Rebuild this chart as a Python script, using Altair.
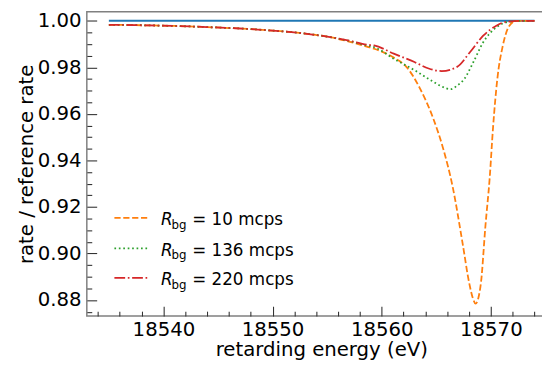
import altair as alt
import pandas as pd

# ---- data ----
blue_x = [18535, 18574]
blue_y = [1.0, 1.0]

common_x = [18535, 18538, 18541, 18544, 18547, 18550, 18553, 18555]
common_y = [0.9983, 0.9981, 0.9978, 0.9973, 0.9967, 0.9958, 0.9945, 0.9932]

orange_x = [18557, 18558.7, 18559.3, 18561.1, 18562.3, 18563.5, 18564.7, 18565.6, 18566.5,
            18567.4, 18568.0, 18568.35, 18568.6, 18568.85, 18569.1, 18569.5, 18569.9, 18570.2,
            18570.6, 18571.1, 18571.7, 18572.3, 18573, 18574]
orange_y = [0.9911, 0.9888, 0.9880, 0.9842, 0.9800, 0.9710, 0.9583, 0.9456, 0.9287,
            0.9047, 0.8877, 0.8808, 0.8785, 0.8808, 0.8877, 0.9117, 0.9329, 0.9541,
            0.9753, 0.9894, 0.9979, 0.9999, 1.0, 1.0]

green_x = [18557, 18558.7, 18559.3, 18561.1, 18563.0, 18564.7, 18565.5, 18566.3, 18567.0,
           18567.5, 18568.4, 18569.3, 18570.5, 18571.7, 18573, 18574]
green_y = [0.9914, 0.9893, 0.9887, 0.9837, 0.9788, 0.9739, 0.9718, 0.9706, 0.9725,
           0.9746, 0.9823, 0.9908, 0.9972, 0.9996, 1.0, 1.0]

red_x = [18557, 18558.7, 18559.3, 18561.1, 18563.0, 18564.3, 18565.5, 18566.9, 18568.1,
         18569.3, 18570.5, 18571.4, 18573, 18574]
red_y = [0.9915, 0.9897, 0.9894, 0.9859, 0.9823, 0.9795, 0.9784, 0.9802, 0.9866,
         0.9936, 0.9979, 0.9996, 1.0, 1.0]

bg_rates = [10, 136, 220]
series_colors = ["#ff7f0e", "#2ca02c", "#d62728"]
series_dashes = [[6.3, 2.7], [1.7, 2.8], [10.9, 2.7, 1.7, 2.7]]

x_ticks = [18534 + 2 * i for i in range(21)]
y_ticks = [round(0.875 + 0.005 * i, 3) for i in range(26)]

X_DOMAIN = [18532.98, 18575.95]
Y_DOMAIN = [0.8731, 1.00394]
W, H = 476, 309
FONT = "DejaVu Sans"

x_enc = alt.X(
    "x:Q",
    scale=alt.Scale(domain=X_DOMAIN, nice=False, zero=False),
    axis=alt.Axis(
        values=x_ticks,
        title="retarding energy (eV)",
        labelExpr="datum.value % 10 == 0 ? format(datum.value, 'd') : ''",
        tickSize={"condition": {"test": "datum.value % 10 == 0", "value": -10}, "value": -5},
        labelPadding=13.5,
        titleX=238, titleY=40.5, titleAlign="center", titleBaseline="alphabetic",
        titleAnchor="start",
    ),
)
y_enc = alt.Y(
    "y:Q",
    scale=alt.Scale(domain=Y_DOMAIN, nice=False, zero=False),
    axis=alt.Axis(
        values=y_ticks,
        title="rate / reference rate",
        labelExpr="round(datum.value * 1000) % 20 == 0 ? format(datum.value, '.2f') : ''",
        tickSize={"condition": {"test": "round(datum.value * 1000) % 20 == 0", "value": -10}, "value": -5},
        labelPadding=15.8,
        titleX=-55, titleY=154.5, titleAngle=270, titleAlign="center",
        titleBaseline="alphabetic", titleAnchor="start",
    ),
)


def line_layer(xs, ys, color, dash=None, width=1.8):
    df = pd.DataFrame({"x": xs, "y": ys})
    kw = dict(color=color, strokeWidth=width, clip=True, interpolate="monotone")
    if dash is not None:
        kw["strokeDash"] = dash
    return alt.Chart(df).mark_line(**kw).encode(x=x_enc, y=y_enc)


layers = [line_layer(blue_x, blue_y, "#1f77b4", None, 2.0)]
for xs, ys, c, d in [
    (common_x + orange_x, common_y + orange_y, series_colors[0], series_dashes[0]),
    (common_x + green_x, common_y + green_y, series_colors[1], series_dashes[1]),
    (common_x + red_x, common_y + red_y, series_colors[2], series_dashes[2]),
]:
    layers.append(line_layer(xs, ys, c, d))

# ---- legend (manual, to allow italic R with subscript) ----
row_line_y = [209.3, 240.3, 270.3]
for i, r in enumerate(bg_rates):
    df = pd.DataFrame({"label": [f"= {r} mcps"]})
    ly = row_line_y[i]
    base = ly + 7.4
    layers.append(
        alt.Chart(df).mark_rule(color=series_colors[i], strokeWidth=1.8,
                                strokeDash=series_dashes[i]).encode(
            x=alt.value(28), x2=alt.value(62), y=alt.value(ly))
    )
    layers.append(
        alt.Chart(df).mark_text(text="R", font=FONT, fontSize=17, fontStyle="italic",
                                align="left", baseline="alphabetic", color="#000").encode(
            x=alt.value(75.3), y=alt.value(base))
    )
    layers.append(
        alt.Chart(df).mark_text(text="bg", font=FONT, fontSize=12,
                                align="left", baseline="alphabetic", color="#000").encode(
            x=alt.value(86), y=alt.value(base + 3.5))
    )
    layers.append(
        alt.Chart(df).mark_text(font=FONT, fontSize=17, align="left",
                                baseline="alphabetic", color="#000").encode(
            x=alt.value(107), y=alt.value(base), text="label:N")
    )

chart = alt.layer(*layers).properties(
    width=W, height=H,
    autosize=alt.AutoSizeParams(type="none"),
    padding={"left": 80, "top": 1, "right": -14, "bottom": 52},
).configure_view(
    stroke="#808080", strokeWidth=1.5
).configure_axis(
    domain=False, grid=False,
    labelFont=FONT, labelFontSize=20, labelColor="#000",
    titleFont=FONT, titleFontSize=20, titleColor="#000", titleFontWeight="normal",
    tickColor="#333", tickWidth=1.1,
    labelOverlap=False, labelFlush=False, labelBound=False,
)

chart.save("out.html", embed_options={"renderer": "svg", "actions": False})
